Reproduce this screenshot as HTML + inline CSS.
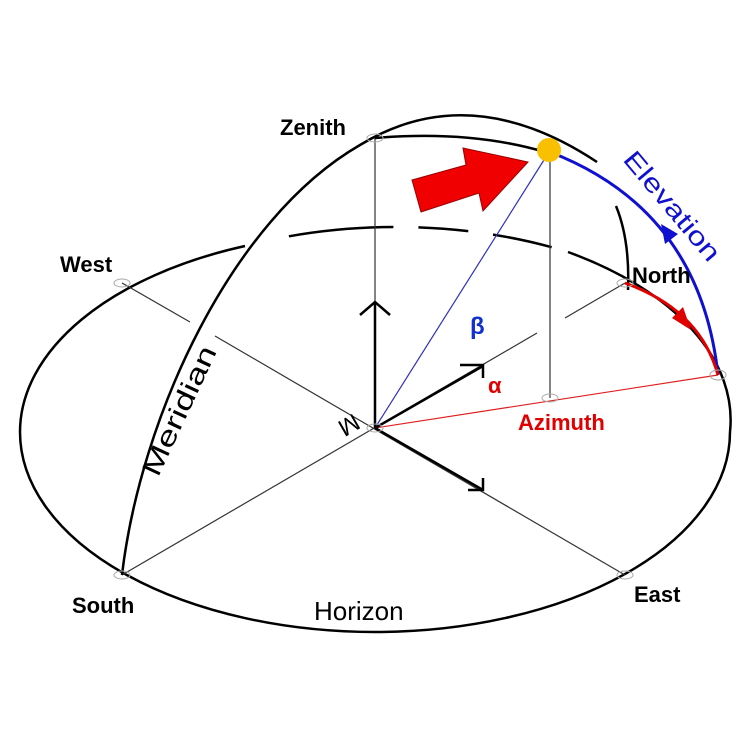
<!DOCTYPE html>
<html><head><style>body{margin:0;background:#fff}</style></head><body>
<svg width="750" height="750" viewBox="0 0 750 750" xmlns="http://www.w3.org/2000/svg" font-family="Liberation Sans, DejaVu Sans, sans-serif">
<rect width="750" height="750" fill="#fff"/>
<!-- horizon ellipse -->
<g fill="none" stroke="#000" stroke-width="2.5">
<path d="M 20 432 A 355 200 0 0 0 730 432"/>
<path d="M 20 432 A 355 200 0 0 1 245 246"/>
<path d="M 568 252 A 355 200 0 0 1 730 432"/>
<path d="M 245 246 A 355 200 0 0 1 568 252" stroke-dasharray="0 45 105 25 50 25 60 20"/>
</g>
<!-- thin lines -->
<g stroke="#333" stroke-width="1.2" fill="none">
<line x1="122" y1="283" x2="190" y2="322"/>
<line x1="215" y1="336" x2="625" y2="575"/>
<line x1="625" y1="283" x2="565" y2="318"/>
<line x1="537" y1="333" x2="122" y2="575"/>
<line x1="375" y1="138" x2="375" y2="428"/>
<line x1="550" y1="152" x2="550" y2="398"/>
</g>
<line x1="375" y1="428" x2="549" y2="152" stroke="#3030c0" stroke-width="1.2"/>
<line x1="375" y1="428" x2="718" y2="375" stroke="#e02020" stroke-width="1.2"/>
<!-- meridian -->
<path d="M 122 575 C 140 420 230 220 360 145 Q 470 78 597 162" fill="none" stroke="#000" stroke-width="2.5"/>
<path d="M 375 138 Q 470 130 545 152" fill="none" stroke="#000" stroke-width="2.5"/>
<path d="M 616 206 Q 630 240 628 290" fill="none" stroke="#000" stroke-width="2.5"/>
<!-- elevation -->
<path d="M 550 152 Q 700 210 718 375" fill="none" stroke="#1010d0" stroke-width="3"/>
<polygon points="661,224 678,234 665,244" fill="#1010d0"/>
<!-- azimuth -->
<path d="M 625 283 Q 700 310 718 375" fill="none" stroke="#e00000" stroke-width="3"/>
<polygon points="691,330 672,318 683,307" fill="#e00000"/>
<!-- black arrows -->
<g stroke="#000" stroke-width="2.5" fill="none">
<line x1="375" y1="428" x2="375" y2="302"/>
<polyline points="360,315 375,302 390,315"/>
<line x1="375" y1="428" x2="483" y2="366"/>
<polyline points="460,365 483,365 483,378"/>
<line x1="375" y1="428" x2="483" y2="490"/>
<polyline points="483,478 483,490 468,490"/>
</g>
<!-- markers -->
<g fill="none" stroke="#aaa" stroke-width="1">
<ellipse cx="122" cy="283" rx="8" ry="4"/><ellipse cx="625" cy="283" rx="8" ry="4"/>
<ellipse cx="122" cy="575" rx="8" ry="4"/><ellipse cx="625" cy="575" rx="8" ry="4"/>
<ellipse cx="718" cy="375" rx="8" ry="5"/><ellipse cx="375" cy="428" rx="8" ry="4"/>
<ellipse cx="375" cy="138" rx="8" ry="4"/><ellipse cx="550" cy="398" rx="8" ry="4"/>
</g>
<!-- red arrow -->
<polygon points="412,180 466,165 463,148 528,162 483,211 479,193 421,212" fill="#f00000" stroke="#900" stroke-width="1"/>
<circle cx="549" cy="150" r="12" fill="#f8c000"/>
<!-- labels -->
<g font-weight="bold" font-size="22" fill="#000">
<text x="280" y="135">Zenith</text>
<text x="60" y="272">West</text>
<text x="632" y="283">North</text>
<text x="72" y="613">South</text>
<text x="634" y="602">East</text>
</g>
<text x="314" y="620" font-size="26">Horizon</text>
<text transform="translate(158,478) rotate(-65)" font-size="27" textLength="140" lengthAdjust="spacingAndGlyphs">Meridian</text>
<text transform="translate(345,418) rotate(150)" font-size="24" text-anchor="middle">M</text>
<text transform="translate(622,160) rotate(50)" font-size="26" fill="#1010d0" textLength="135" lengthAdjust="spacingAndGlyphs">Elevation</text>
<text x="470" y="334" font-size="24" fill="#1030d0" font-weight="bold">β</text>
<text x="488" y="393" font-size="22" fill="#e00000" font-weight="bold">α</text>
<text x="518" y="430" font-size="22" fill="#e00000" font-weight="bold">Azimuth</text>
</svg>
</body></html>
